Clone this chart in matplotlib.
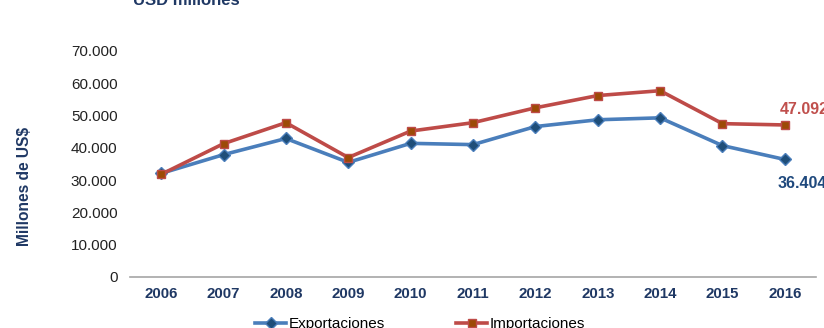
import matplotlib
matplotlib.use('Agg')
import matplotlib.pyplot as plt
from matplotlib.ticker import FuncFormatter

plt.rcParams['font.family'] = ['Liberation Sans', 'DejaVu Sans']

years = ['2006', '2007', '2008', '2009', '2010', '2011', '2012', '2013', '2014', '2015', '2016']
exportaciones = [32100, 37900, 42900, 35500, 41400, 41000, 46600, 48700, 49300, 40700, 36404]
importaciones = [31800, 41300, 47800, 37000, 45200, 47800, 52400, 56200, 57700, 47500, 47092]

blue = '#4A7EBB'
red = '#BE4B48'
navy = '#1F3864'

fig = plt.figure(figsize=(8.24, 3.28), dpi=100)
ax = fig.add_axes([130/824, 51/328, 686/824, 226/328])
x = range(len(years))

ax.plot(x, exportaciones, color=blue, lw=2.6, marker='D', ms=6,
        mfc='#1F4E79', mec=blue, mew=1, label='Exportaciones', zorder=3)
ax.plot(x, importaciones, color=red, lw=2.6, marker='s', ms=6,
        mfc='#9C4A06', mec=red, mew=1, label='Importaciones', zorder=3)

ax.set_xlim(-0.5, len(years) - 0.5)
ax.set_ylim(0, 70000)
ax.set_yticks(range(0, 70001, 10000))
ax.yaxis.set_major_formatter(FuncFormatter(lambda v, p: '{:,.0f}'.format(v).replace(',', '.')))
ax.set_xticks(list(x))
ax.set_xticklabels(years, fontweight='bold', color=navy, fontsize=10.8)
ax.tick_params(axis='y', length=0, pad=9, labelsize=11, labelcolor='#222222')
ax.tick_params(axis='x', length=0, pad=7)

for s in ['top', 'right', 'left']:
    ax.spines[s].set_visible(False)
ax.spines['bottom'].set_color('#A6A6A6')
ax.spines['bottom'].set_linewidth(1.2)

ax.set_ylabel('Millones de US$', fontweight='bold', color=navy, fontsize=11.2)
ax.yaxis.set_label_coords(-0.143, 0.40)

ax.annotate('47.092', (10, importaciones[-1]), xytext=(-4, 6), textcoords='offset points',
            color='#C0504D', fontweight='bold', fontsize=11.5, ha='left', va='bottom',
            annotation_clip=False)
ax.annotate('36.404', (10, exportaciones[-1]), xytext=(-5, -12), textcoords='offset points',
            color='#1F497D', fontweight='bold', fontsize=11.5, ha='left', va='top',
            annotation_clip=False)

fig.text(133/824, 1 - 5/328, 'USD millones', fontweight='bold', color=navy, fontsize=12,
         ha='left', va='baseline')

fig.legend(loc='center', bbox_to_anchor=(420/824, 1 - 324/328), ncol=2, frameon=False,
           fontsize=11, handlelength=2.0, handletextpad=0.15, columnspacing=4.7)

fig.savefig('out.png', dpi=100)
